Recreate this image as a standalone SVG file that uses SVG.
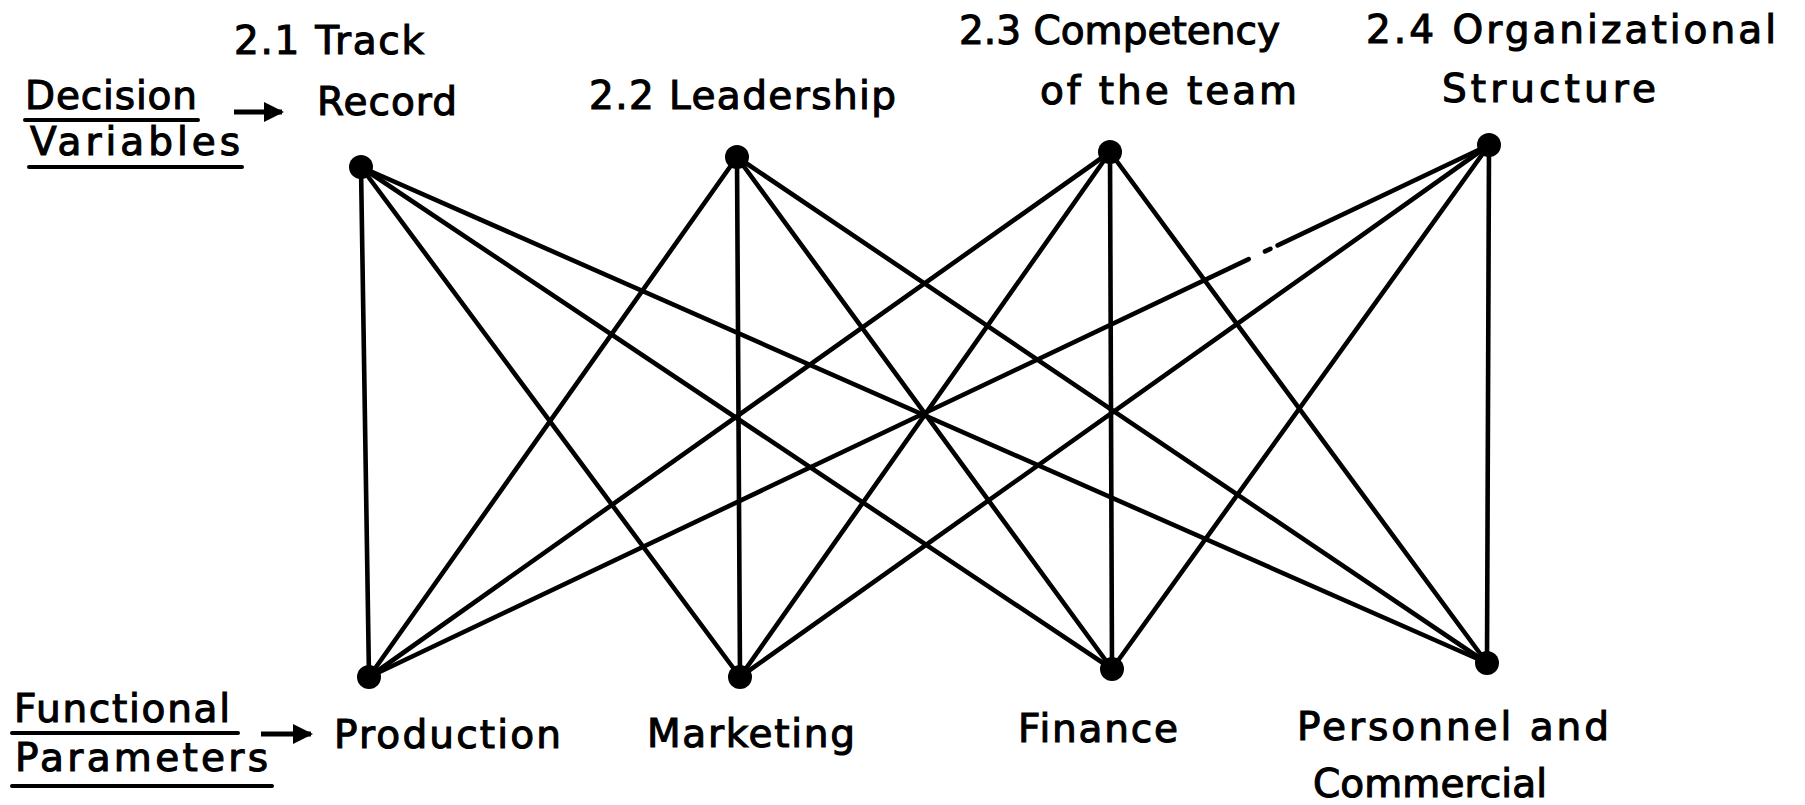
<svg xmlns="http://www.w3.org/2000/svg" width="1805" height="805" viewBox="0 0 1805 805">
  <style>
    .lbl { font-family: "DejaVu Sans", "Liberation Sans", sans-serif; font-size: 39px; fill: #000; stroke: #000; stroke-width: 1.1; }
    .edge { stroke: #000; stroke-width: 4.6; stroke-linecap: round; fill: none; }
    .dot { fill: #000; }
    .ul { stroke: #000; stroke-width: 4; stroke-linecap: round; }
    .ptr { stroke: #000; stroke-width: 5; }
  </style>
  <defs>
    <marker id="head" viewBox="0 0 10 10" refX="9" refY="5" markerWidth="4.2" markerHeight="4" orient="auto" markerUnits="strokeWidth">
      <path d="M0,0 L10,5 L0,10 Z" fill="#000"/>
    </marker>
  </defs>
  <rect width="1805" height="805" fill="#fff"/>

  <!-- every decision variable is linked to every functional parameter -->
  <g id="connectors">
    <line class="edge" x1="361" y1="167" x2="369" y2="677"/>
    <line class="edge" x1="361" y1="167" x2="740" y2="677"/>
    <line class="edge" x1="361" y1="167" x2="1112" y2="669"/>
    <line class="edge" x1="361" y1="167" x2="1487" y2="663"/>

    <line class="edge" x1="737" y1="157" x2="369" y2="677"/>
    <line class="edge" x1="737" y1="157" x2="740" y2="677"/>
    <line class="edge" x1="737" y1="157" x2="1112" y2="669"/>
    <line class="edge" x1="737" y1="157" x2="1487" y2="663"/>

    <line class="edge" x1="1110" y1="152" x2="369" y2="677"/>
    <line class="edge" x1="1110" y1="152" x2="740" y2="677"/>
    <line class="edge" x1="1110" y1="152" x2="1112" y2="669"/>
    <line class="edge" x1="1110" y1="152" x2="1487" y2="663"/>

    <line class="edge" x1="1489" y1="145" x2="369" y2="677" stroke-dasharray="234 8 6 18 2000"/>
    <line class="edge" x1="1489" y1="145" x2="740" y2="677"/>
    <line class="edge" x1="1489" y1="145" x2="1112" y2="669"/>
    <line class="edge" x1="1489" y1="145" x2="1487" y2="663"/>
  </g>

  <!-- row captions -->
  <g id="decision-variables">
    <text class="lbl" x="25" y="109" textLength="172" lengthAdjust="spacing">Decision</text>
    <line class="ul" x1="25" y1="120" x2="198" y2="120"/>
    <text class="lbl" x="30" y="155" textLength="210" lengthAdjust="spacing">Variables</text>
    <line class="ul" x1="29" y1="167" x2="242" y2="167"/>
    <line class="ptr" x1="234" y1="112" x2="282" y2="112" marker-end="url(#head)"/>
  </g>
  <g id="functional-parameters">
    <text class="lbl" x="14" y="722" textLength="216" lengthAdjust="spacing">Functional</text>
    <line class="ul" x1="12" y1="733" x2="238" y2="733"/>
    <text class="lbl" x="15" y="771" textLength="253" lengthAdjust="spacing">Parameters</text>
    <line class="ul" x1="12" y1="786" x2="272" y2="786"/>
    <line class="ptr" x1="261" y1="734" x2="311" y2="734" marker-end="url(#head)"/>
  </g>

  <!-- decision variables -->
  <g id="track-record">
    <text class="lbl" x="234" y="54" textLength="190" lengthAdjust="spacing">2.1 Track</text>
    <text class="lbl" x="317" y="115" textLength="140" lengthAdjust="spacing">Record</text>
    <circle class="dot" cx="361" cy="167" r="12"/>
  </g>
  <g id="leadership">
    <text class="lbl" x="589" y="109" textLength="307" lengthAdjust="spacing">2.2 Leadership</text>
    <circle class="dot" cx="737" cy="157" r="12"/>
  </g>
  <g id="competency">
    <text class="lbl" x="959" y="44" textLength="321" lengthAdjust="spacing">2.3 Competency</text>
    <text class="lbl" x="1040" y="104" textLength="257" lengthAdjust="spacing">of the team</text>
    <circle class="dot" cx="1110" cy="152" r="12"/>
  </g>
  <g id="organizational-structure">
    <text class="lbl" x="1366" y="43" textLength="410" lengthAdjust="spacing">2.4 Organizational</text>
    <text class="lbl" x="1442" y="102" textLength="214" lengthAdjust="spacing">Structure</text>
    <circle class="dot" cx="1489" cy="145" r="12"/>
  </g>

  <!-- functional parameters -->
  <g id="production">
    <circle class="dot" cx="369" cy="677" r="12"/>
    <text class="lbl" x="334" y="748" textLength="227" lengthAdjust="spacing">Production</text>
  </g>
  <g id="marketing">
    <circle class="dot" cx="740" cy="677" r="12"/>
    <text class="lbl" x="647" y="747" textLength="208" lengthAdjust="spacing">Marketing</text>
  </g>
  <g id="finance">
    <circle class="dot" cx="1112" cy="669" r="12"/>
    <text class="lbl" x="1018" y="742" textLength="160" lengthAdjust="spacing">Finance</text>
  </g>
  <g id="personnel-commercial">
    <circle class="dot" cx="1487" cy="663" r="12"/>
    <text class="lbl" x="1297" y="740" textLength="312" lengthAdjust="spacing">Personnel and</text>
    <text class="lbl" x="1313" y="797" textLength="234" lengthAdjust="spacing">Commercial</text>
  </g>
</svg>
